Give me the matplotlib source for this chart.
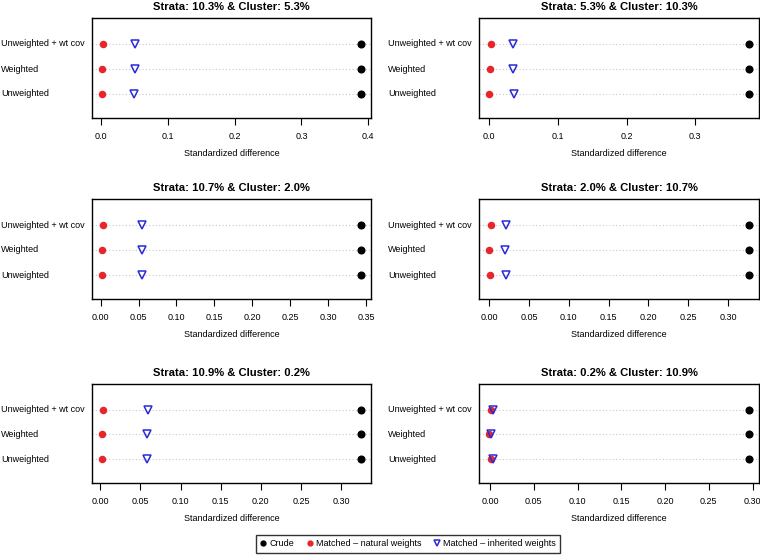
import matplotlib.pyplot as plt
from matplotlib.lines import Line2D
from matplotlib.transforms import blended_transform_factory

plt.rcParams['font.family'] = ['Liberation Sans', 'DejaVu Sans']

# rows from bottom to top, as in an R dotchart
rotulos = ["Unweighted", "Weighted", "Unweighted + wt cov"]

titulos = [
    "Strata: 10.3% & Cluster: 5.3%",
    "Strata: 5.3% & Cluster: 10.3%",
    "Strata: 10.7% & Cluster: 2.0%",
    "Strata: 2.0% & Cluster: 10.7%",
    "Strata: 10.9% & Cluster: 0.2%",
    "Strata: 0.2% & Cluster: 10.9%",
]

crude = [
    [0.3885, 0.3885, 0.3885],
    [0.378, 0.378, 0.378],
    [0.343, 0.343, 0.343],
    [0.3256, 0.3256, 0.3256],
    [0.3245, 0.3245, 0.3245],
    [0.2955, 0.2955, 0.2955],
]

natural = [
    [0.0025, 0.0025, 0.004],
    [0.0, 0.001, 0.0024],
    [0.0022, 0.0022, 0.0026],
    [0.0017, 0.0004, 0.003],
    [0.0025, 0.0025, 0.0033],
    [0.0008, -0.0008, 0.0008],
]

herdado = [
    [0.050, 0.051, 0.052],
    [0.0356, 0.035, 0.0346],
    [0.0542, 0.0542, 0.0551],
    [0.021, 0.0197, 0.0214],
    [0.0576, 0.0576, 0.0588],
    [0.0030, 0.0015, 0.0030],
]

xticks = [
    [0.0, 0.1, 0.2, 0.3, 0.4],
    [0.0, 0.1, 0.2, 0.3],
    [0.00, 0.05, 0.10, 0.15, 0.20, 0.25, 0.30, 0.35],
    [0.00, 0.05, 0.10, 0.15, 0.20, 0.25, 0.30],
    [0.00, 0.05, 0.10, 0.15, 0.20, 0.25, 0.30],
    [0.00, 0.05, 0.10, 0.15, 0.20, 0.25, 0.30],
]
xtick_fmt = ["%.1f", "%.1f", "%.2f", "%.2f", "%.2f", "%.2f"]

legenda = ["Crude", "Matched \u2013 natural weights", "Matched \u2013 inherited weights"]

W, H = 760, 556
COR_VERM = "#e8262a"
COR_AZUL = "#2a2ad8"
FS = 6.5

fig = plt.figure(figsize=(W / 100, H / 100), dpi=100)

# caixas em pixels
colunas = [(92, 371), (479, 759)]
linhas = [(18, 118), (199, 299), (384, 483)]
inicio_rotulo = [1, 388]

for i in range(6):
    c = i % 2
    r = i // 2
    x0, x1 = colunas[c]
    y0, y1 = linhas[r]
    ax = fig.add_axes([x0 / W, 1 - y1 / H, (x1 - x0) / W, (y1 - y0) / H])

    ys = [1, 2, 3]
    for y in ys:
        ax.axhline(y, color="#c8c8c8", linestyle=(0, (1, 2)), linewidth=0.8, zorder=1)

    ax.plot(crude[i], ys, linestyle="none", marker="o", markersize=4.8,
            color="black", zorder=3)
    ax.plot(natural[i], ys, linestyle="none", marker="o", markersize=4.4,
            color=COR_VERM, zorder=3)
    ax.plot(herdado[i], ys, linestyle="none", marker="v", markersize=5.4,
            markerfacecolor="none", markeredgecolor=COR_AZUL,
            markeredgewidth=1.1, zorder=4)

    ax.margins(x=0.04)
    ax.set_ylim(0.04, 4.04)
    ax.set_yticks([])
    ax.set_xticks(xticks[i])
    ax.set_xticklabels([xtick_fmt[i] % v for v in xticks[i]], fontsize=FS)
    ax.tick_params(axis="x", length=5, width=0.8, pad=5, direction="out")
    for s in ax.spines.values():
        s.set_linewidth(1.0)
        s.set_color("black")

    ax.set_title(titulos[i], fontsize=8.1, fontweight="bold", pad=6)
    ax.set_xlabel("Standardized difference", fontsize=FS, labelpad=6)

    trans = blended_transform_factory(fig.transFigure, ax.transData)
    for y, txt in zip(ys, rotulos):
        ax.text(inicio_rotulo[c] / W, y, txt, transform=trans, ha="left",
                va="center", fontsize=FS)

handles = [
    Line2D([], [], linestyle="none", marker="o", markersize=3.5, color="black"),
    Line2D([], [], linestyle="none", marker="o", markersize=3.5, color=COR_VERM),
    Line2D([], [], linestyle="none", marker="v", markersize=4.2,
           markerfacecolor="none", markeredgecolor=COR_AZUL, markeredgewidth=1.1),
]
leg = fig.legend(handles, legenda, loc="center", bbox_to_anchor=(408 / W, 1 - 544 / H),
                 ncol=3, fontsize=FS, frameon=True, fancybox=False,
                 handlelength=0.8, handletextpad=0.3, columnspacing=1.3,
                 borderpad=0.45)
leg.get_frame().set_edgecolor("black")
leg.get_frame().set_linewidth(1.0)

fig.savefig("out.png", dpi=100)
